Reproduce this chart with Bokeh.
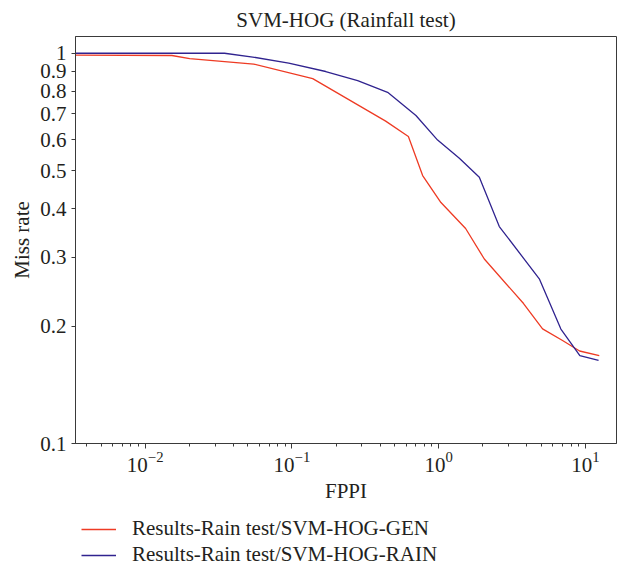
from bokeh.plotting import figure
from bokeh.layouts import column
from bokeh.models import Range1d, FixedTicker, Legend, LegendItem
from bokeh.embed import file_html
from bokeh.resources import INLINE

# ---- data ----
gen_fppi = [0.00335, 0.0152, 0.0201, 0.0549, 0.1386, 0.4355, 0.622, 0.778, 1.037,
            1.527, 2.048, 3.79, 5.11, 6.99, 9.13, 12.44]
gen_miss = [0.989, 0.987, 0.969, 0.938, 0.861, 0.670, 0.612, 0.486, 0.4145,
            0.3556, 0.297, 0.2284, 0.1967, 0.1836, 0.1726, 0.1679]
rain_fppi = [0.00335, 0.0347, 0.0541, 0.0951, 0.170, 0.2806, 0.449, 0.7002, 0.984,
             1.384, 1.894, 2.591, 4.853, 6.81, 9.17, 12.3]
rain_miss = [1.0, 1.0, 0.978, 0.944, 0.898, 0.851, 0.794, 0.6925, 0.599,
             0.538, 0.481, 0.3597, 0.2642, 0.1965, 0.168, 0.1633]
y_ticks = [0.1, 0.2, 0.3, 0.4, 0.5, 0.6, 0.7, 0.8, 0.9, 1.0]
y_tick_labels = ["0.1", "0.2", "0.3", "0.4", "0.5", "0.6", "0.7", "0.8", "0.9", "1"]
series_names = ["Results-Rain test/SVM-HOG-GEN", "Results-Rain test/SVM-HOG-RAIN"]
title_text = "SVM-HOG (Rainfall test)"

FONT = "Liberation Serif"
TXT = "#231f20"
AX = "#3a3a3a"
RED = "#ee3b24"
BLUE = "#30238f"
LW = 1.3

p = figure(frame_width=541, frame_height=407, output_backend="svg", toolbar_location=None,
           x_axis_type="log", y_axis_type="log",
           x_range=Range1d(0.00335, 16.3), y_range=Range1d(0.1, 1.104),
           min_border_left=75, min_border_right=1, min_border_top=28, min_border_bottom=62,
           title=title_text)
p.background_fill_color = "white"
p.border_fill_color = "white"
p.outline_line_color = AX
p.outline_line_width = 1
p.grid.visible = False

p.title.text_font = FONT
p.title.text_font_size = "21px"
p.title.text_font_style = "normal"
p.title.text_color = TXT
p.title.align = "center"

p.line(gen_fppi, gen_miss, line_color=RED, line_width=LW)
p.line(rain_fppi, rain_miss, line_color=BLUE, line_width=LW)

for ax in (p.xaxis[0], p.yaxis[0]):
    ax.axis_line_color = AX
    ax.major_tick_line_color = AX
    ax.minor_tick_line_color = AX
    ax.major_tick_in = 0
    ax.minor_tick_in = 0
    ax.major_label_text_font = FONT
    ax.major_label_text_font_size = "21px"
    ax.major_label_text_color = TXT
    ax.axis_label_text_font = FONT
    ax.axis_label_text_font_size = "21px"
    ax.axis_label_text_font_style = "normal"
    ax.axis_label_text_color = TXT

p.xaxis.major_tick_out = 5
p.xaxis.minor_tick_out = 3
p.xaxis.major_label_standoff = 3
p.xaxis.axis_label_standoff = 4
p.xaxis.axis_label = "FPPI"
p.yaxis.axis_label = "Miss rate"
p.yaxis.axis_label_standoff = 3
p.yaxis.ticker = FixedTicker(ticks=y_ticks, minor_ticks=[])
p.yaxis.major_label_overrides = {t: l for t, l in zip(y_ticks, y_tick_labels)}
p.yaxis.major_tick_out = 4

# ---- legend strip below the chart (series drawn out of view, only keys show) ----
lf = figure(width=617, height=62, output_backend="svg", toolbar_location=None,
            x_range=Range1d(-2, -1), y_range=Range1d(-2, -1),
            x_axis_location=None, y_axis_location=None,
            min_border_left=0, min_border_right=0, min_border_top=0, min_border_bottom=0)
lf.grid.visible = False
lf.outline_line_color = None
lf.background_fill_color = "white"
lf.border_fill_color = "white"
g1 = lf.line(gen_fppi, gen_miss, line_color=RED, line_width=LW)
g2 = lf.line(rain_fppi, rain_miss, line_color=BLUE, line_width=LW)
legend = Legend(items=[LegendItem(label=series_names[0], renderers=[g1]),
                       LegendItem(label=series_names[1], renderers=[g2])],
                location=(6, 0), orientation="vertical",
                margin=0, padding=0, spacing=1,
                glyph_width=35, glyph_height=18, label_height=18, label_standoff=16,
                label_text_font=FONT, label_text_font_size="21px", label_text_color=TXT,
                border_line_alpha=0, background_fill_alpha=0)
lf.add_layout(legend, "center")

layout = column(p, lf, spacing=0)
open("out.html", "w").write(file_html(layout, INLINE))
